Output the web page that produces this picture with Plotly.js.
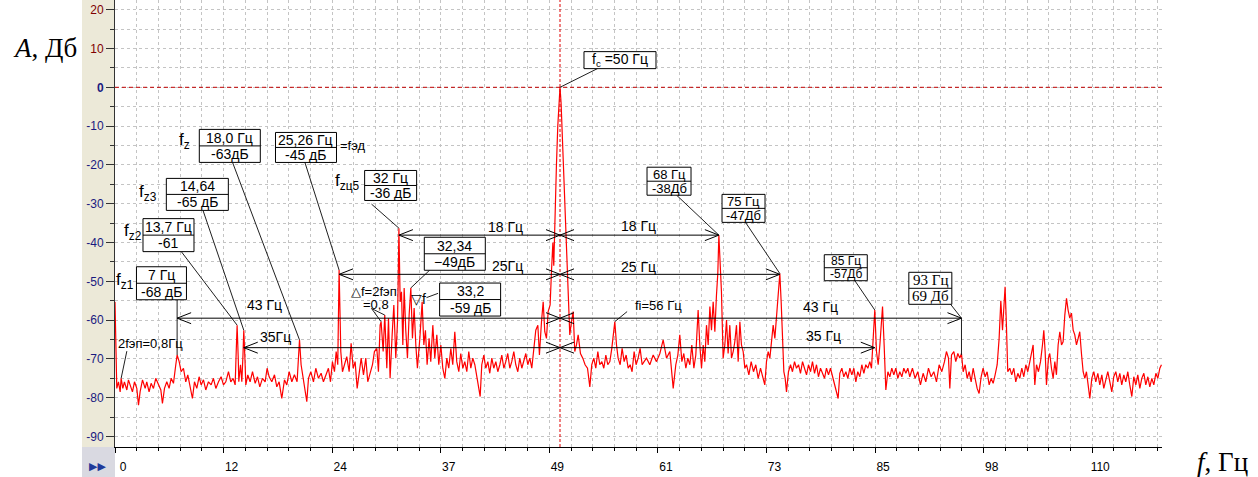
<!DOCTYPE html>
<html>
<head>
<meta charset="utf-8">
<script src="https://cdn.plot.ly/plotly-3.0.1.min.js"></script>
<style>html,body{margin:0;padding:0;background:#fff;}#chart{width:1258px;height:477px;}</style>
</head>
<body>
<div id="chart"></div>
<script>
// ---- data ----
const freqHz = [
0.00,0.09,0.20,0.39,0.58,0.69,0.88,1.06,1.33,1.51,1.70,1.96,2.19,2.45,2.64,2.82,3.09,3.39,3.57,3.83,
4.06,4.32,4.58,4.88,5.15,5.33,5.56,5.82,6.08,6.31,6.57,6.83,6.98,7.21,7.43,7.69,7.95,8.18,8.44,8.70,
8.93,9.19,9.45,9.68,9.94,10.20,10.50,10.80,11.06,11.33,11.63,11.92,12.19,12.45,12.75,13.01,13.27,13.50,13.62,13.72,
13.85,13.91,14.10,14.25,14.38,14.47,14.60,14.70,14.92,15.18,15.45,15.75,16.01,16.27,16.57,16.87,17.09,17.32,17.62,17.92,
18.18,18.44,18.74,19.04,19.30,19.57,19.87,20.16,20.46,20.62,20.73,20.91,21.18,21.36,21.55,21.74,22.00,22.30,22.56,22.86,
23.16,23.42,23.69,23.98,24.21,24.43,24.66,24.85,25.03,25.10,25.18,25.28,25.37,25.56,25.78,26.04,26.31,26.53,26.76,26.98,
27.21,27.43,27.66,27.92,28.18,28.40,28.67,28.93,29.15,29.42,29.60,29.79,29.90,30.13,30.31,30.54,30.73,30.91,31.14,31.33,
31.55,31.74,31.82,31.90,32.04,32.19,32.34,32.49,32.67,32.86,33.05,33.24,33.42,33.61,33.80,33.98,34.25,34.51,34.70,34.88,
35.07,35.29,35.48,35.71,35.93,36.16,36.38,36.61,36.83,37.06,37.28,37.50,37.73,37.95,38.18,38.40,38.63,38.85,39.08,39.30,
39.53,39.75,39.98,40.20,40.43,40.65,40.88,41.03,41.21,41.44,41.66,41.89,42.11,42.34,42.56,42.79,43.01,43.24,43.46,43.69,
43.91,44.13,44.36,44.58,44.81,45.03,45.26,45.48,45.71,45.93,46.16,46.38,46.61,46.83,47.06,47.28,47.51,47.69,47.92,48.11,
48.29,48.48,48.67,48.89,49.05,49.20,49.30,49.45,49.60,49.75,49.88,50.00,50.12,50.25,50.40,50.55,50.68,50.80,50.95,51.10,
51.29,51.48,51.66,51.85,52.04,52.30,52.56,52.82,53.09,53.35,53.57,53.80,54.02,54.25,54.47,54.70,54.92,55.15,55.37,55.60,
55.82,56.01,56.16,56.35,56.53,56.76,56.98,57.21,57.43,57.66,57.88,58.10,58.33,58.55,58.78,59.00,59.23,59.45,59.72,60.09,
60.47,60.84,61.22,61.59,61.97,62.34,62.72,63.01,63.24,63.46,63.69,63.91,64.14,64.36,64.59,64.81,65.04,65.26,65.41,65.52,
65.71,65.90,66.09,66.27,66.46,66.65,66.84,67.02,67.21,67.40,67.58,67.73,67.85,68.00,68.14,68.33,68.52,68.71,68.89,69.08,
69.27,69.46,69.64,69.83,70.02,70.21,70.39,70.58,70.77,70.96,71.22,71.48,71.74,72.00,72.27,72.53,72.79,73.01,73.20,73.39,
73.58,73.76,73.95,74.14,74.33,74.51,74.70,74.85,75.00,75.15,75.30,75.45,75.67,75.90,76.12,76.35,76.57,76.80,77.02,77.25,
77.47,77.70,77.92,78.15,78.37,78.60,78.82,79.04,79.27,79.49,79.72,79.94,80.17,80.39,80.62,80.84,81.07,81.25,81.44,81.67,
81.89,82.12,82.34,82.57,82.79,83.02,83.24,83.46,83.69,83.91,84.14,84.36,84.59,84.81,85.00,85.19,85.37,85.56,85.75,85.94,
86.24,86.42,86.61,86.84,87.06,87.28,87.51,87.73,87.96,88.18,88.41,88.63,88.86,89.08,89.30,89.60,89.90,90.20,90.50,90.80,
91.10,91.40,91.70,92.00,92.30,92.60,92.90,93.20,93.42,93.65,93.80,93.99,94.25,94.47,94.70,94.92,95.11,95.30,95.52,95.75,
95.97,96.20,96.42,96.64,96.87,97.09,97.32,97.54,97.77,97.99,98.22,98.44,98.67,98.89,99.12,99.34,99.53,99.72,99.87,100.01,
100.16,100.31,100.54,100.76,100.99,101.21,101.44,101.66,101.89,102.11,102.34,102.56,102.79,103.01,103.16,103.35,103.54,103.76,103.99,104.21,
104.36,104.51,104.66,104.88,105.03,105.22,105.41,105.60,105.78,105.97,106.16,106.35,106.53,106.72,106.91,107.09,107.28,107.47,107.66,107.84,
108.03,108.22,108.40,108.59,108.78,108.97,109.15,109.34,109.53,109.75,109.98,110.20,110.43,110.65,110.88,111.10,111.33,111.55,111.78,112.00,
112.22,112.45,112.67,112.90,113.12,113.35,113.57,113.80,114.02,114.25,114.47,114.70,114.92,115.15,115.37,115.60,115.82,116.05,116.27,116.50,
116.72,116.95,117.17,117.40,117.58
];
const levelDb = [
-55.3,-63.8,-77.6,-75.9,-78.5,-75.0,-77.6,-75.9,-78.0,-75.4,-76.7,-78.5,-75.9,-77.6,-81.9,-78.5,-75.4,-77.6,-75.9,-78.5,
-76.3,-77.6,-75.0,-76.7,-78.0,-81.5,-77.6,-75.9,-77.6,-75.0,-76.3,-71.5,-69.0,-70.7,-73.3,-72.4,-75.9,-74.1,-77.6,-80.2,
-75.9,-77.6,-74.6,-76.7,-75.4,-78.0,-75.9,-76.7,-75.0,-77.6,-75.9,-74.6,-76.7,-75.9,-73.3,-75.9,-75.0,-76.7,-68.0,-61.3,
-70.0,-75.9,-71.5,-75.9,-69.0,-62.6,-70.0,-76.7,-74.1,-75.9,-73.3,-76.3,-74.6,-77.2,-75.0,-75.9,-72.4,-74.6,-75.9,-74.1,
-77.2,-75.9,-80.2,-75.4,-76.7,-73.3,-75.9,-74.1,-75.9,-70.0,-65.1,-71.5,-75.9,-77.6,-81.0,-75.0,-73.3,-75.9,-72.4,-75.0,
-73.7,-75.9,-74.1,-72.4,-75.9,-70.7,-73.3,-68.1,-71.5,-55.0,-47.1,-58.0,-68.1,-73.3,-71.5,-69.4,-73.3,-66.0,-72.4,-70.7,
-77.6,-73.3,-69.8,-74.1,-69.8,-75.9,-73.7,-71.5,-68.1,-67.3,-73.3,-61.3,-60.4,-68.1,-58.7,-72.4,-59.5,-75.0,-63.8,-56.1,
-69.8,-60.4,-50.0,-36.3,-55.3,-52.7,-66.4,-51.7,-62.6,-69.8,-58.7,-51.7,-64.7,-56.9,-66.4,-72.4,-64.7,-55.3,-66.4,-62.6,
-71.5,-64.7,-70.7,-61.3,-69.8,-63.8,-71.5,-66.4,-72.4,-75.0,-69.8,-72.4,-67.3,-71.5,-63.0,-70.7,-73.3,-68.6,-72.4,-70.7,
-73.3,-68.1,-72.4,-69.8,-71.5,-74.6,-76.7,-79.7,-71.5,-69.0,-72.4,-70.7,-73.7,-69.8,-72.4,-70.7,-73.3,-71.5,-69.0,-72.4,
-70.7,-68.6,-72.4,-70.7,-68.1,-71.5,-73.3,-69.8,-72.4,-70.7,-68.6,-71.5,-69.8,-72.4,-66.4,-62.6,-61.3,-69.0,-60.4,-55.3,
-63.0,-64.7,-57.8,-56.1,-47.0,-40.0,-46.0,-30.0,-20.0,-10.0,-3.0,0.0,-4.0,-12.0,-22.0,-32.0,-40.0,-50.0,-58.7,-63.8,
-60.4,-57.8,-68.1,-66.4,-63.8,-68.6,-69.8,-71.5,-72.4,-77.2,-71.5,-69.8,-72.4,-68.1,-71.5,-70.7,-72.4,-69.0,-71.5,-70.7,
-67.3,-62.6,-60.4,-66.4,-69.8,-71.5,-67.3,-70.7,-69.0,-72.4,-71.5,-73.3,-68.1,-71.5,-69.8,-67.3,-71.5,-70.7,-69.8,-71.5,
-69.0,-70.7,-68.6,-65.1,-69.8,-68.1,-77.6,-71.5,-69.0,-63.8,-70.7,-68.6,-72.4,-69.8,-71.5,-66.4,-72.4,-69.0,-62.6,-57.4,
-66.4,-72.4,-66.4,-70.7,-61.3,-66.4,-56.5,-62.6,-55.3,-63.0,-53.6,-48.0,-38.1,-44.1,-52.7,-69.8,-66.4,-60.0,-68.6,-61.3,
-69.8,-68.1,-65.6,-61.3,-70.7,-60.4,-66.4,-68.1,-72.4,-71.5,-74.1,-70.7,-73.3,-71.5,-75.0,-72.4,-74.6,-76.7,-70.7,-68.1,
-69.8,-66.4,-61.3,-64.7,-58.7,-52.7,-48.0,-55.3,-65.6,-73.3,-75.0,-78.5,-73.3,-71.5,-73.3,-70.7,-72.4,-71.5,-73.7,-70.7,
-72.4,-74.1,-71.5,-73.3,-70.7,-73.7,-71.5,-74.6,-72.4,-73.7,-75.0,-72.4,-74.1,-72.4,-74.6,-76.7,-78.5,-80.2,-73.7,-72.4,
-74.6,-73.3,-75.0,-72.4,-74.1,-72.4,-75.9,-73.3,-74.6,-71.5,-73.7,-71.5,-72.4,-70.7,-72.4,-65.6,-57.4,-68.1,-71.5,-66.4,
-56.5,-66.4,-78.0,-73.3,-74.6,-72.4,-74.1,-72.4,-75.0,-73.3,-74.6,-72.4,-73.7,-72.4,-74.6,-72.4,-75.0,-73.3,-76.7,-73.7,
-75.9,-72.4,-74.6,-73.3,-75.9,-71.5,-73.3,-70.7,-68.1,-69.8,-77.6,-69.0,-68.1,-70.7,-68.6,-69.8,-68.6,-73.3,-71.5,-75.0,
-73.3,-75.9,-72.4,-75.0,-77.6,-78.9,-74.6,-72.4,-74.6,-73.3,-76.7,-75.0,-76.3,-74.1,-71.5,-64.7,-55.0,-62.6,-56.1,-51.4,
-61.3,-73.3,-72.4,-74.1,-72.4,-75.9,-73.7,-75.0,-72.4,-74.6,-71.5,-73.3,-70.7,-68.1,-66.4,-76.7,-71.5,-73.3,-70.7,-66.4,
-62.6,-68.1,-76.7,-69.8,-68.6,-72.4,-75.0,-70.7,-74.1,-66.4,-63.0,-66.4,-65.6,-58.7,-54.4,-57.4,-59.5,-58.2,-62.6,-63.8,
-66.4,-64.7,-63.0,-68.6,-73.3,-75.0,-73.3,-76.7,-80.2,-75.0,-73.3,-75.9,-73.7,-76.7,-74.1,-77.6,-75.0,-73.3,-75.9,-78.5,
-74.6,-73.3,-75.9,-73.7,-76.7,-74.1,-75.9,-73.3,-76.7,-79.7,-74.6,-76.7,-74.1,-77.6,-75.0,-73.7,-76.7,-74.6,-77.2,-75.0,
-76.7,-73.7,-75.0,-72.4,-71.5
];
const xTickLabels = ['0','12','24','37','49','61','73','85','98','110'];
const xTickStep = 12.2;
const yTickValues = [20,10,0,-10,-20,-30,-40,-50,-60,-70,-80,-90];
const fc = 50;

// labelled boxes: [freq, dB, width px, row height px, font px, top row, bottom row]
const boxes = [
  [5.22,-50.5,50,16.5,14,'7 Гц','-68 дБ'],
  [6.01,-38.1,51,16.5,14,'13,7 Гц','-61'],
  [9.25,-27.6,62,16,14,'14,64','-65 дБ'],
  [12.9,-15.1,61,16.5,14,'18,0 Гц','-63дБ'],
  [21.46,-15.5,61,15,14,'25,26 Гц','-45 дБ'],
  [30.97,-25.3,52,15,14,'32 Гц','-36 дБ'],
  [38.18,-42.9,61,16.5,14,'32,34','−49дБ'],
  [39.9,-54.7,61,16.5,14,'33,2','-59 дБ'],
  [62.25,-24.2,44,14,13,'68 Гц','-38Дб'],
  [70.62,-31.2,43,14,13,'75 Гц','-47Дб'],
  [82.11,-46.5,43,13,12,'85 Гц','-57Дб'],
  [91.61,-51.8,43,16,15,'93 Гц','69 Дб']
];
const notes = [
  [1.11,-49.9,'f<sub>z1</sub>',17],[1.97,-37.2,'f<sub>z2</sub>',17],[3.69,-27.2,'f<sub>z3</sub>',17],
  [7.84,-13.8,'f<sub>z</sub>',17],[26.04,-24.4,'f<sub>zц5</sub>',17],[26.72,-15.1,'=fэд',13],
  [29.08,-52.6,'△f=2fэп',13],[29.3,-56.0,'=0,8',13],[34.13,-54.6,'▽f',14],
  [61.1,-56.3,'fi=56 Гц',13],[4.04,-65.9,'2fэп=0,8Гц',13],
  [43.9,-36.0,'18 Гц',14],[58.8,-35.8,'18 Гц',14],[44.1,-46.1,'25Гц',14],[58.85,-46.3,'25 Гц',14],
  [16.83,-56.1,'43 Гц',14],[79.3,-56.6,'43 Гц',14],[18.07,-64.4,'35Гц',14],[79.6,-64.1,'35 Гц',14]
];
const leaders = [
  [6.98,-54.8,6.98,-69.0],[7.47,-42.4,13.72,-61.3],[9.9,-31.8,14.47,-62.6],[13.2,-19.3,20.73,-65.1],
  [21.33,-19.3,25.18,-47.1],[28.82,-30.1,31.9,-36.3],[35.37,-47.1,33.24,-51.7],[36.3,-53.1,35.0,-54.2],
  [54.28,4.9,50.0,0],[63.1,-27.8,67.85,-38.1],[70.84,-34.8,74.7,-48.0],[83.12,-49.8,85.37,-57.4],
  [93.88,-55.9,95.11,-59.5],[95.11,-59.5,95.11,-69.0],[57.54,-57.8,56.16,-60.4],[1.33,-68.0,0.69,-75.0],
  [28.82,-57.0,29.9,-60.4],[28.82,-57.0,30.31,-58.7]
];
// dimension arrows: [dB level, left end, right end]
const spans = [[-38.1,31.9,67.85],[-48.2,25.18,74.7],[-59.5,6.98,95.11],[-67.1,14.47,85.37]];

// ---- layout ----
const W = 1258, H = 477, ML = 115, MR = 96, MT = 0, MB = 30;
const PW = W - ML - MR, PH = H - MT - MB;
const SANS = 'Liberation Sans, Arial, sans-serif';
const SERIF = 'Liberation Serif, Times New Roman, serif';

const xTickVals = xTickLabels.map((_, i) => i * xTickStep);
const yTickText = yTickValues.map(v => v > 0 ? '<span style="color:#800000">' + v + '</span>' : (v === 0 ? '<b>0</b>' : String(v)));

const shapes = [];
const annotations = [];
const px = p => (p - ML) / PW; // paper x from page px (frame decorations only)
const py = p => (H - MB - p) / PH;

shapes.push({type:'rect', xref:'paper', yref:'paper', x0:px(82), x1:0, y0:0, y1:1, fillcolor:'#ECE9D8', line:{width:0}, layer:'below'});
shapes.push({type:'rect', xref:'paper', yref:'paper', x0:px(82), x1:0, y0:py(477), y1:0, fillcolor:'#D9D9E1', line:{width:0}, layer:'below'});
shapes.push({type:'line', xref:'x', yref:'paper', x0:fc, x1:fc, y0:0, y1:1, line:{color:'#E00000', width:1, dash:'3px,2px'}});
shapes.push({type:'line', xref:'paper', yref:'y', x0:0, x1:1, y0:0, y1:0, line:{color:'#C00000', width:1, dash:'4px,3px'}});

leaders.forEach(l => shapes.push({type:'line', xref:'x', yref:'y', x0:l[0], y0:l[1], x1:l[2], y1:l[3], line:{color:'#202020', width:1}}));

const headL = 'M14,5.5L0,0L14,-5.5', headR = 'M-14,5.5L0,0L-14,-5.5';
function head(f, d, path) {
  shapes.push({type:'path', xref:'x', yref:'y', xsizemode:'pixel', ysizemode:'pixel', xanchor:f, yanchor:d, path:path, line:{color:'#000', width:1}});
}
spans.forEach(s => {
  shapes.push({type:'line', xref:'x', yref:'y', x0:s[1], x1:s[2], y0:s[0], y1:s[0], line:{color:'#000', width:1}});
  head(s[1], s[0], headL); head(fc, s[0], headR); head(fc, s[0], headL); head(s[2], s[0], headR);
});

function pixBox(f, d, x0, x1, y0, y1, fill) {
  shapes.push({type:'rect', xref:'x', yref:'y', xsizemode:'pixel', ysizemode:'pixel', xanchor:f, yanchor:d,
    x0:x0, x1:x1, y0:y0, y1:y1, fillcolor:fill, line:{color:'#000', width:1}});
}
boxes.forEach((b, i) => {
  const last = i === boxes.length - 1;
  const hw = b[2] / 2, rh = b[3], fs = b[4];
  pixBox(b[0], b[1], -hw, hw, -rh, rh, '#FFFFFF');
  shapes.push({type:'line', xref:'x', yref:'y', xsizemode:'pixel', ysizemode:'pixel', xanchor:b[0], yanchor:b[1],
    x0:-hw, x1:hw, y0:0, y1:0, line:{color:'#000', width:1}});
  const font = {family:last ? SERIF : SANS, size:fs, color:'#000'};
  annotations.push({xref:'x', yref:'y', x:b[0], y:b[1], yshift:rh/2, showarrow:false, text:b[5], font:font});
  annotations.push({xref:'x', yref:'y', x:b[0], y:b[1], yshift:-rh/2, showarrow:false, text:b[6], font:font});
});
pixBox(56.74, 7.0, -36, 36, -8.5, 8.5, '#FFFFFF');
annotations.push({xref:'x', yref:'y', x:56.74, y:7.0, showarrow:false, text:'f<sub>c</sub> =50 Гц',
  font:{family:SANS, size:14, color:'#000'}});
notes.forEach(n => annotations.push({xref:'x', yref:'y', x:n[0], y:n[1], text:n[2], showarrow:false,
  font:{family:SANS, size:n[3], color:'#000'}}));

annotations.push({xref:'paper', yref:'paper', x:px(11), y:py(48), xanchor:'left', yanchor:'middle', showarrow:false,
  text:'<i>A</i>, Дб', font:{family:SERIF, size:27, color:'#000'}});
annotations.push({xref:'paper', yref:'paper', x:px(1195), y:py(462), xanchor:'left', yanchor:'middle', showarrow:false,
  text:'<i>f</i>, Гц', font:{family:SERIF, size:27, color:'#000'}});
annotations.push({xref:'paper', yref:'paper', x:px(97), y:py(466), xanchor:'center', yanchor:'middle', showarrow:false,
  text:'▶▶', font:{family:'DejaVu Sans', size:11, color:'#1F3A9A'}});

const grid = {color:'#C4C4C4', dash:'dot'};

Plotly.newPlot('chart', [{
  x: freqHz, y: levelDb, type:'scatter', mode:'lines',
  line:{color:'#FF0000', width:1.2}, hoverinfo:'skip'
}], {
  width: W, height: H,
  margin:{l:ML, r:MR, t:MT, b:MB, pad:0},
  paper_bgcolor:'#fff', plot_bgcolor:'#fff',
  showlegend:false,
  xaxis:{
    range:[0, PW/8.9], tickmode:'array', tickvals:xTickVals, ticktext:xTickLabels,
    ticks:'outside', ticklen:5, tickcolor:'#000', ticklabelshift:8, ticklabelstandoff:4,
    tickfont:{family:SANS, size:12, color:'#000'},
    showline:true, linecolor:'#000', linewidth:1, zeroline:false,
    showgrid:true, gridcolor:grid.color, griddash:grid.dash, gridwidth:1,
    minor:{tick0:0, dtick:xTickStep/5, ticks:'outside', ticklen:3, tickcolor:'#000', showgrid:true, gridcolor:grid.color, griddash:grid.dash}
  },
  yaxis:{
    range:[-92.7, 22.5], tickmode:'array', tickvals:yTickValues, ticktext:yTickText,
    ticks:'outside', ticklen:8, tickcolor:'#333',
    tickfont:{family:SANS, size:12, color:'#1A1A80'},
    showline:true, linecolor:'#333', linewidth:1, zeroline:false,
    showgrid:true, gridcolor:grid.color, griddash:grid.dash, gridwidth:1,
    minor:{tick0:0, dtick:5, ticks:'outside', ticklen:4, tickcolor:'#333', showgrid:true, gridcolor:grid.color, griddash:grid.dash}
  },
  shapes: shapes,
  annotations: annotations
}, {displayModeBar:false, staticPlot:true});
</script>
</body>
</html>
